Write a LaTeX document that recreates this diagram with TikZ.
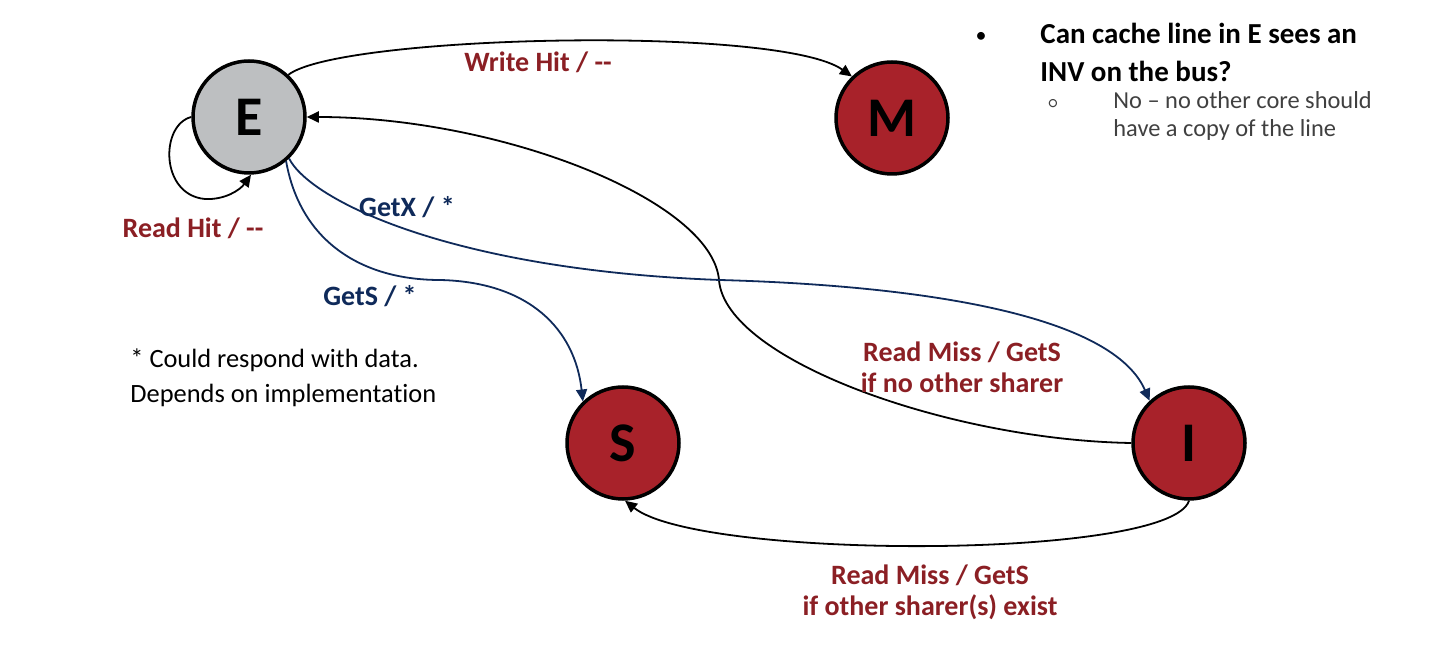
\documentclass[tikz,border=0pt]{standalone}
\usepackage{fontspec}
\setmainfont[Ligatures=NoCommon]{Carlito}
\usetikzlibrary{arrows.meta}
\definecolor{stred}{HTML}{A8222A}
\definecolor{stgray}{HTML}{BDBFC1}
\definecolor{lblred}{HTML}{8B1F24}
\definecolor{lblnavy}{HTML}{0F2A5A}
\definecolor{subgray}{HTML}{404040}
\tikzset{
  state/.style={circle, draw=black, line width=1.75pt, minimum size=56pt, inner sep=0pt,
    font=\fontsize{28}{30}\selectfont\bfseries},
  redstate/.style={state, fill=stred},
  graystate/.style={state, fill=stgray},
  trans/.style={line width=0.9pt, draw=black, -{Triangle[length=6pt,width=5.5pt]}},
  navytrans/.style={trans, draw=lblnavy, -{Triangle[length=6pt,width=5.5pt,fill=lblnavy]}},
  redlbl/.style={text=lblred, font=\fontsize{14}{15.5}\selectfont\bfseries, align=center, inner sep=0pt},
  navylbl/.style={text=lblnavy, font=\fontsize{14}{15.5}\selectfont\bfseries, inner sep=0pt},
  note/.style={font=\fontsize{13.2}{17.5}\selectfont, align=left, anchor=north west, inner sep=0pt},
}
\begin{document}
\begin{tikzpicture}[x=0.5pt, y=-0.5pt]
\useasboundingbox (0,0) rectangle (1430,646);

\node[graystate] (E) at (249,117) {E};
\node[redstate] (M) at (892,118) {M};
\node[redstate] (S) at (623,443) {S};
\node[redstate] (I) at (1189,443) {I};

% E -> M
\draw[trans] (E.47) .. controls (340,35) and (780,25) .. (M.134);
% self loop
\draw[trans] (E.180) .. controls (160,125) and (160,195) .. (205,199) .. controls (225,200) and (240,190) .. (E.272);
% I -> E
\draw[trans] (I.180) .. controls (950,440) and (725,360) .. (719,280) .. controls (712,200) and (500,117) .. (E.0);
% E -> I (GetX)
\draw[navytrans] (E.-46) .. controls (310,200) and (450,270) .. (720,280) .. controls (900,285) and (1110,310) .. (I.133);
% E -> S (GetS)
\draw[navytrans] (E.-50) .. controls (300,240) and (360,280) .. (440,280) .. controls (530,282) and (575,330) .. (S.134);
% I -> S
\draw[trans] (I.-90) .. controls (1170,560) and (700,560) .. (S.-88);

\node[redlbl] (lw) at (538,62) {Write Hit / -{}-};
\node[redlbl] (lr) at (193,228) {Read Hit / -{}-};
\node[navylbl] (lx) at (407,207) {GetX / *};
\node[navylbl] (ls) at (370,296) {GetS / *};
\node[redlbl] (lie) at (962,367) {Read Miss / GetS\\if no other sharer};
\node[redlbl] (lis) at (930,592) {Read Miss / GetS\\if other sharer(s) exist};

\node[note] (star) at (130,348) {* Could respond with data.\\Depends on implementation};

\node[font=\fontsize{11}{13}\selectfont, inner sep=0pt] (b1) at (981,37) {•};
\node[font=\fontsize{14.5}{19}\selectfont\bfseries, align=left, anchor=north west, inner sep=0pt] (q) at (1040,23) {Can cache line in E sees an\\INV on the bus?};
\node[font=\fontsize{8}{9}\selectfont, text=subgray, inner sep=0pt] (b2) at (1053,104) {○};
\node[font=\fontsize{12.2}{14}\selectfont, text=subgray, align=left, anchor=north west, inner sep=0pt] (a) at (1113,91) {No – no other core should\\have a copy of the line};
\end{tikzpicture}
\end{document}
